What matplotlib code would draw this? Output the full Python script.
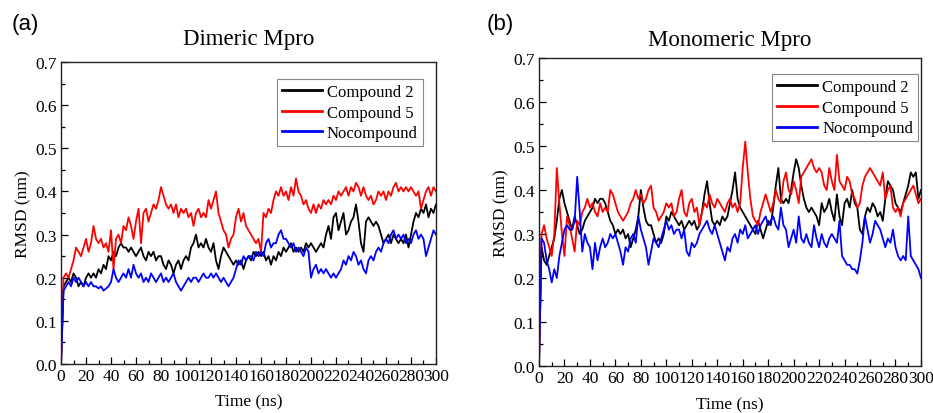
import matplotlib
matplotlib.use("Agg")
import matplotlib.pyplot as plt
import numpy as np
from matplotlib.ticker import MultipleLocator

# time axis, 2 ns steps
time_ns = np.arange(0, 301, 2)

# (a) Dimeric Mpro
dimer_c2 = [0.00, 0.18, 0.19, 0.20, 0.19, 0.21, 0.20, 0.18, 0.19, 0.18,
            0.20, 0.21, 0.20, 0.21, 0.20, 0.22, 0.21, 0.23, 0.22, 0.25,
            0.24, 0.26, 0.25, 0.27, 0.28, 0.27, 0.27, 0.26, 0.27, 0.26,
            0.25, 0.26, 0.27, 0.25, 0.24, 0.26, 0.25, 0.26, 0.24, 0.25,
            0.25, 0.23, 0.22, 0.24, 0.23, 0.21, 0.23, 0.24, 0.22, 0.24,
            0.25, 0.24, 0.27, 0.28, 0.30, 0.27, 0.28, 0.27, 0.29, 0.27,
            0.26, 0.28, 0.24, 0.22, 0.25, 0.27, 0.26, 0.25, 0.24, 0.23,
            0.24, 0.23, 0.24, 0.22, 0.24, 0.25, 0.24, 0.26, 0.25, 0.26,
            0.25, 0.26, 0.24, 0.25, 0.23, 0.25, 0.24, 0.26, 0.25, 0.27,
            0.26, 0.27, 0.28, 0.26, 0.27, 0.26, 0.27, 0.26, 0.28, 0.27,
            0.28, 0.27, 0.26, 0.27, 0.28, 0.27, 0.30, 0.32, 0.29, 0.34,
            0.35, 0.31, 0.33, 0.35, 0.30, 0.31, 0.33, 0.34, 0.37, 0.33,
            0.28, 0.26, 0.33, 0.34, 0.33, 0.32, 0.33, 0.32, 0.30, 0.28,
            0.29, 0.30, 0.28, 0.30, 0.29, 0.28, 0.29, 0.28, 0.30, 0.27,
            0.30, 0.33, 0.35, 0.34, 0.36, 0.35, 0.37, 0.34, 0.36, 0.35,
            0.37]
dimer_c5 = [0.00, 0.20, 0.21, 0.20, 0.22, 0.24, 0.27, 0.26, 0.25, 0.27,
            0.29, 0.26, 0.28, 0.32, 0.29, 0.28, 0.29, 0.27, 0.28, 0.26,
            0.31, 0.22, 0.29, 0.30, 0.28, 0.32, 0.31, 0.34, 0.32, 0.29,
            0.33, 0.36, 0.28, 0.35, 0.36, 0.33, 0.35, 0.37, 0.36, 0.38,
            0.41, 0.39, 0.37, 0.36, 0.37, 0.35, 0.37, 0.34, 0.36, 0.35,
            0.36, 0.34, 0.35, 0.32, 0.35, 0.36, 0.34, 0.35, 0.34, 0.38,
            0.36, 0.38, 0.40, 0.35, 0.33, 0.31, 0.30, 0.27, 0.29, 0.30,
            0.34, 0.36, 0.33, 0.35, 0.32, 0.31, 0.30, 0.29, 0.28, 0.29,
            0.26, 0.35, 0.34, 0.36, 0.35, 0.38, 0.40, 0.39, 0.41, 0.39,
            0.40, 0.38, 0.41, 0.39, 0.43, 0.40, 0.39, 0.37, 0.38, 0.36,
            0.35, 0.37, 0.35, 0.37, 0.36, 0.38, 0.37, 0.38, 0.37, 0.39,
            0.38, 0.40, 0.39, 0.40, 0.41, 0.39, 0.41, 0.40, 0.42, 0.41,
            0.39, 0.41, 0.39, 0.38, 0.39, 0.37, 0.38, 0.40, 0.39, 0.40,
            0.38, 0.40, 0.39, 0.41, 0.42, 0.40, 0.41, 0.40, 0.41, 0.40,
            0.41, 0.40, 0.39, 0.40, 0.36, 0.38, 0.40, 0.41, 0.39, 0.41,
            0.40]
dimer_none = [0.00, 0.17, 0.18, 0.19, 0.18, 0.20, 0.19, 0.20, 0.19, 0.18,
              0.19, 0.18, 0.19, 0.18, 0.18, 0.175, 0.18, 0.17, 0.175, 0.18,
              0.19, 0.22, 0.20, 0.19, 0.20, 0.21, 0.20, 0.22, 0.20, 0.23,
              0.21, 0.20, 0.21, 0.19, 0.20, 0.19, 0.21, 0.20, 0.19, 0.20,
              0.21, 0.19, 0.20, 0.19, 0.20, 0.21, 0.19, 0.18, 0.17, 0.18,
              0.19, 0.20, 0.19, 0.20, 0.20, 0.19, 0.20, 0.21, 0.20, 0.20,
              0.21, 0.20, 0.21, 0.20, 0.19, 0.20, 0.19, 0.18, 0.19, 0.20,
              0.22, 0.24, 0.23, 0.25, 0.24, 0.25, 0.25, 0.24, 0.26, 0.25,
              0.26, 0.25, 0.28, 0.29, 0.27, 0.28, 0.28, 0.30, 0.31, 0.29,
              0.29, 0.28, 0.27, 0.28, 0.26, 0.27, 0.26, 0.25, 0.27, 0.26,
              0.20, 0.22, 0.23, 0.21, 0.22, 0.21, 0.22, 0.21, 0.20, 0.21,
              0.20, 0.21, 0.22, 0.24, 0.23, 0.25, 0.24, 0.26, 0.25, 0.23,
              0.24, 0.22, 0.21, 0.24, 0.25, 0.24, 0.26, 0.27, 0.26, 0.28,
              0.29, 0.28, 0.30, 0.31, 0.29, 0.30, 0.29, 0.30, 0.28, 0.29,
              0.28, 0.30, 0.31, 0.29, 0.30, 0.29, 0.25, 0.27, 0.29, 0.31,
              0.30]

# (b) Monomeric Mpro
mono_c2 = [0.00, 0.27, 0.24, 0.23, 0.25, 0.27, 0.29, 0.33, 0.38, 0.40,
           0.37, 0.35, 0.33, 0.31, 0.34, 0.32, 0.30, 0.31, 0.33, 0.34,
           0.35, 0.36, 0.38, 0.37, 0.38, 0.38, 0.37, 0.35, 0.33, 0.32,
           0.30, 0.31, 0.30, 0.31, 0.29, 0.30, 0.27, 0.29, 0.31, 0.34,
           0.40, 0.36, 0.33, 0.32, 0.32, 0.30, 0.28, 0.29, 0.28, 0.30,
           0.34, 0.33, 0.35, 0.34, 0.33, 0.32, 0.33, 0.31, 0.32, 0.33,
           0.32, 0.33, 0.31, 0.32, 0.35, 0.39, 0.42, 0.37, 0.33, 0.32,
           0.33, 0.32, 0.34, 0.33, 0.34, 0.37, 0.40, 0.44, 0.38, 0.36,
           0.35, 0.34, 0.33, 0.32, 0.31, 0.30, 0.33, 0.31, 0.29, 0.31,
           0.33, 0.32, 0.36, 0.41, 0.45, 0.38, 0.37, 0.38, 0.37, 0.40,
           0.44, 0.47, 0.45, 0.41, 0.38, 0.36, 0.35, 0.36, 0.35, 0.34,
           0.32, 0.37, 0.35, 0.36, 0.38, 0.35, 0.33, 0.39, 0.34, 0.32,
           0.37, 0.38, 0.36, 0.40, 0.37, 0.36, 0.31, 0.30, 0.34, 0.36,
           0.35, 0.37, 0.36, 0.34, 0.35, 0.33, 0.38, 0.42, 0.41, 0.40,
           0.37, 0.36, 0.35, 0.37, 0.39, 0.41, 0.44, 0.43, 0.44, 0.38,
           0.40]
mono_c5 = [0.00, 0.30, 0.32, 0.29, 0.27, 0.25, 0.30, 0.45, 0.37, 0.30,
           0.25, 0.34, 0.32, 0.29, 0.26, 0.33, 0.32, 0.35, 0.36, 0.38,
           0.36, 0.37, 0.35, 0.34, 0.37, 0.35, 0.36, 0.35, 0.40, 0.39,
           0.37, 0.35, 0.34, 0.33, 0.34, 0.35, 0.37, 0.38, 0.40, 0.38,
           0.39, 0.37, 0.38, 0.40, 0.41, 0.36, 0.35, 0.33, 0.34, 0.35,
           0.37, 0.36, 0.37, 0.34, 0.35, 0.38, 0.40, 0.35, 0.34, 0.37,
           0.38, 0.35, 0.36, 0.32, 0.35, 0.37, 0.36, 0.39, 0.37, 0.36,
           0.38, 0.37, 0.36, 0.35, 0.37, 0.38, 0.36, 0.37, 0.35, 0.37,
           0.45, 0.51, 0.44, 0.38, 0.34, 0.33, 0.32, 0.35, 0.37, 0.39,
           0.37, 0.35, 0.37, 0.40, 0.38, 0.37, 0.42, 0.44, 0.40, 0.39,
           0.42, 0.40, 0.37, 0.43, 0.44, 0.45, 0.46, 0.47, 0.45, 0.44,
           0.45, 0.44, 0.41, 0.40, 0.45, 0.42, 0.40, 0.48, 0.42, 0.41,
           0.40, 0.43, 0.42, 0.39, 0.38, 0.36, 0.37, 0.41, 0.43, 0.44,
           0.45, 0.44, 0.43, 0.42, 0.41, 0.44, 0.38, 0.40, 0.41, 0.36,
           0.35, 0.36, 0.34, 0.37, 0.38, 0.39, 0.40, 0.41, 0.39, 0.37,
           0.38]
mono_none = [0.00, 0.29, 0.28, 0.24, 0.22, 0.19, 0.22, 0.20, 0.25, 0.28,
             0.31, 0.32, 0.31, 0.31, 0.33, 0.43, 0.35, 0.26, 0.30, 0.28,
             0.27, 0.22, 0.28, 0.24, 0.27, 0.29, 0.27, 0.28, 0.30, 0.29,
             0.30, 0.28, 0.26, 0.23, 0.27, 0.26, 0.29, 0.30, 0.28, 0.34,
             0.31, 0.29, 0.27, 0.23, 0.26, 0.29, 0.28, 0.27, 0.29, 0.31,
             0.33, 0.31, 0.32, 0.30, 0.31, 0.31, 0.29, 0.31, 0.26, 0.25,
             0.28, 0.27, 0.28, 0.30, 0.31, 0.32, 0.33, 0.31, 0.30, 0.32,
             0.30, 0.28, 0.26, 0.24, 0.27, 0.26, 0.29, 0.30, 0.28, 0.31,
             0.30, 0.32, 0.29, 0.30, 0.31, 0.32, 0.30, 0.32, 0.33, 0.34,
             0.32, 0.33, 0.34, 0.32, 0.31, 0.36, 0.32, 0.31, 0.27, 0.29,
             0.31, 0.28, 0.34, 0.29, 0.28, 0.30, 0.28, 0.27, 0.32, 0.29,
             0.27, 0.30, 0.28, 0.27, 0.29, 0.30, 0.29, 0.28, 0.33, 0.25,
             0.24, 0.23, 0.23, 0.22, 0.22, 0.21, 0.24, 0.28, 0.34, 0.31,
             0.28, 0.30, 0.33, 0.32, 0.31, 0.29, 0.27, 0.29, 0.28, 0.31,
             0.27, 0.25, 0.24, 0.25, 0.24, 0.34, 0.25, 0.24, 0.23, 0.22,
             0.20]

labels = ["Compound 2", "Compound 5", "Nocompound"]
colors = ["black", "red", "blue"]

serif = "Liberation Serif"

fig = plt.figure(figsize=(9.33, 4.14), dpi=100)
ax_a = fig.add_axes([0.0654, 0.1184, 0.4019, 0.7294])
ax_b = fig.add_axes([0.5777, 0.1135, 0.4094, 0.744])


def style_axes(ax, title, title_pad, leg_anchor):
    ax.set_xlim(0, 300)
    ax.set_ylim(0, 0.7)
    ax.xaxis.set_major_locator(MultipleLocator(20))
    ax.xaxis.set_minor_locator(MultipleLocator(10))
    ax.yaxis.set_major_locator(MultipleLocator(0.1))
    ax.yaxis.set_minor_locator(MultipleLocator(0.05))
    ax.yaxis.set_major_formatter(plt.FormatStrFormatter("%.1f"))
    ax.tick_params(which="both", direction="in", top=False, right=False,
                   labelsize=12.5, width=0.9)
    ax.tick_params(which="major", length=5, pad=3)
    ax.tick_params(which="minor", length=3)
    for lab in ax.get_xticklabels() + ax.get_yticklabels():
        lab.set_family(serif)
    for sp in ax.spines.values():
        sp.set_linewidth(1.0)
        sp.set_color("#222222")
    ax.set_xlabel("Time (ns)", family=serif, fontsize=12.5, labelpad=7)
    ax.set_ylabel("RMSD (nm)", family=serif, fontsize=12.5, labelpad=3)
    ax.set_title(title, family=serif, fontsize=16.5, pad=title_pad)
    leg = ax.legend(loc="upper right", bbox_to_anchor=leg_anchor,
                    borderaxespad=0, frameon=True, fancybox=False,
                    edgecolor="#888888", framealpha=1, handlelength=2.4,
                    handletextpad=0.3, borderpad=0.3, labelspacing=0.28,
                    prop={"family": serif, "size": 12})
    leg.get_frame().set_linewidth(0.8)
    for ln in leg.get_lines():
        ln.set_linewidth(2.0)


for ax, series in [(ax_a, [dimer_c2, dimer_c5, dimer_none]),
                   (ax_b, [mono_c2, mono_c5, mono_none])]:
    for vals, lab, col in zip(series, labels, colors):
        ax.plot(time_ns, vals, color=col, lw=1.3, label=lab)

style_axes(ax_a, "Dimeric Mpro", 13, (0.965, 0.944))
style_axes(ax_b, "Monomeric Mpro", 9, (0.992, 0.948))

fig.text(0.012, 0.94, "(a)", family="Liberation Sans", fontsize=16,
         va="center")
fig.text(0.522, 0.94, "(b)", family="Liberation Sans", fontsize=16,
         va="center")

fig.savefig("out.png", dpi=100)
